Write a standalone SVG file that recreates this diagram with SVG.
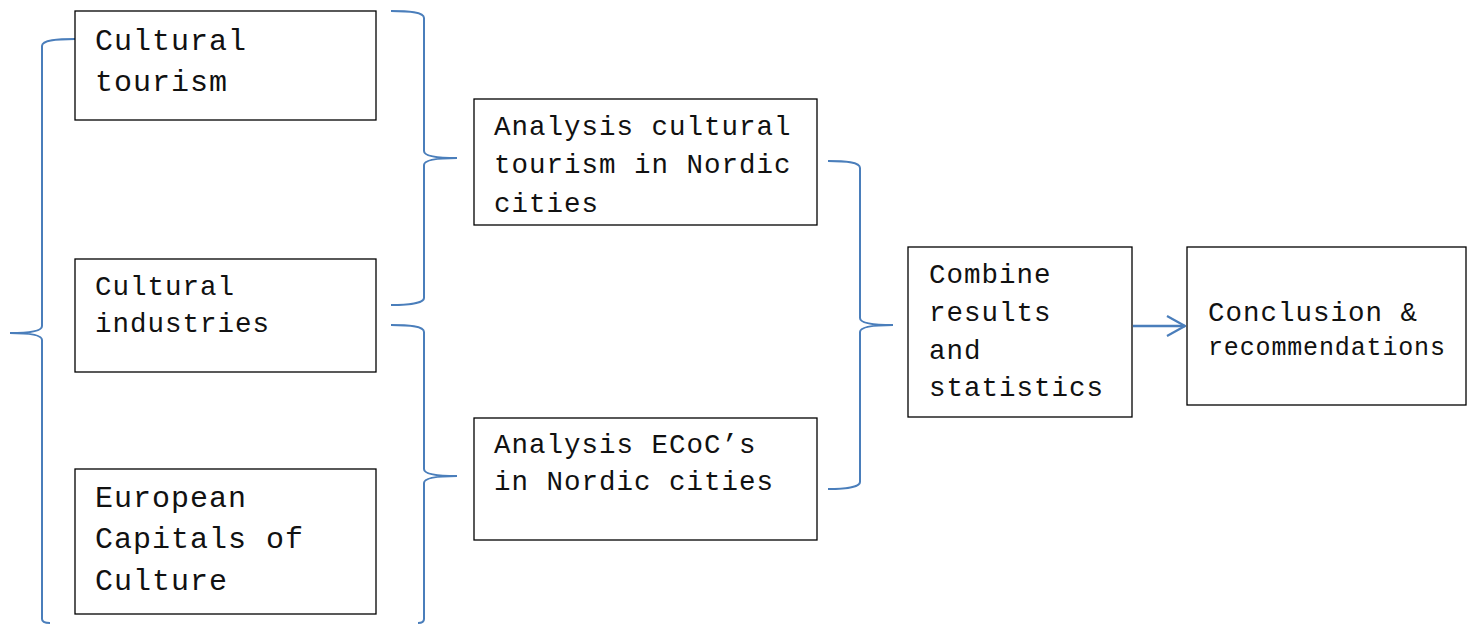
<svg xmlns="http://www.w3.org/2000/svg" width="1467" height="624" viewBox="0 0 1467 624">
<defs>
<style>
.box{fill:#fff;stroke:#000;stroke-width:1.3}
.t{font-family:"Liberation Mono","Courier New",monospace;fill:#111}
.big{font-size:30px;letter-spacing:1px}
.med{font-size:27.5px;letter-spacing:1px}
.sm{font-size:25px;letter-spacing:0.85px}
.br{fill:none;stroke:#4A7EBB;stroke-width:2}
</style>
<marker id="arr" viewBox="0 0 20 22" refX="19" refY="11" markerWidth="20" markerHeight="22" markerUnits="userSpaceOnUse" orient="auto">
<path d="M1,1 L19,11 L1,21" fill="none" stroke="#4A7EBB" stroke-width="2.2"/>
</marker>
</defs>
<rect width="1467" height="624" fill="#fff"/>
<g id="connectors">
<path class="br" d="M75,39 C58,39 42,40 42,46 L42,326 C42,331 30,333 10,333 C30,333 42,335 42,340 L42,619 C42,622 45,623 50,623"/>
<path class="br" d="M391,11 C408,11 424,12 424,18 L424,151 C424,156 436,158 457,158 C436,158 424,160 424,165 L424,298 C424,303 408,305 391,305"/>
<path class="br" d="M391,325 C408,325 424,326 424,332 L424,469 C424,474 436,476 457,476 C436,476 424,478 424,483 L424,619 C424,622 422,623 418,623"/>
<path class="br" d="M828,161 C845,161 860,162 860,168 L860,318 C860,323 872,325 893,325 C872,325 860,327 860,332 L860,482 C860,487 845,489 828,489"/>
<path class="br" style="stroke-width:2.5" d="M1133,326 L1185,326" marker-end="url(#arr)"/>
</g>
<g id="node-cultural-tourism">
<rect class="box" x="75" y="11" width="301" height="109"/>
<text class="t big" x="95" y="50">Cultural</text>
<text class="t big" x="95" y="91">tourism</text>
</g>
<g id="node-cultural-industries">
<rect class="box" x="75" y="259" width="301" height="113"/>
<text class="t med" x="95" y="295">Cultural</text>
<text class="t med" x="95" y="332">industries</text>
</g>
<g id="node-ecoc">
<rect class="box" x="75" y="469" width="301" height="145"/>
<text class="t big" x="95" y="507">European</text>
<text class="t big" x="95" y="548">Capitals of</text>
<text class="t big" x="95" y="590">Culture</text>
</g>
<g id="node-analysis-tourism">
<rect class="box" x="474" y="99" width="343" height="126"/>
<text class="t med" x="494" y="135">Analysis cultural</text>
<text class="t med" x="494" y="173">tourism in Nordic</text>
<text class="t med" x="494" y="212">cities</text>
</g>
<g id="node-analysis-ecoc">
<rect class="box" x="474" y="418" width="343" height="122"/>
<text class="t med" x="494" y="453">Analysis ECoC’s</text>
<text class="t med" x="494" y="490">in Nordic cities</text>
</g>
<g id="node-combine">
<rect class="box" x="908" y="247" width="224" height="170"/>
<text class="t med" x="929" y="283">Combine</text>
<text class="t med" x="929" y="321">results</text>
<text class="t med" x="929" y="359">and</text>
<text class="t med" x="929" y="396">statistics</text>
</g>
<g id="node-conclusion">
<rect class="box" x="1187" y="247" width="279" height="158"/>
<text class="t med" x="1208" y="321">Conclusion &amp;</text>
<text class="t sm" x="1208" y="355">recommendations</text>
</g>
</svg>
